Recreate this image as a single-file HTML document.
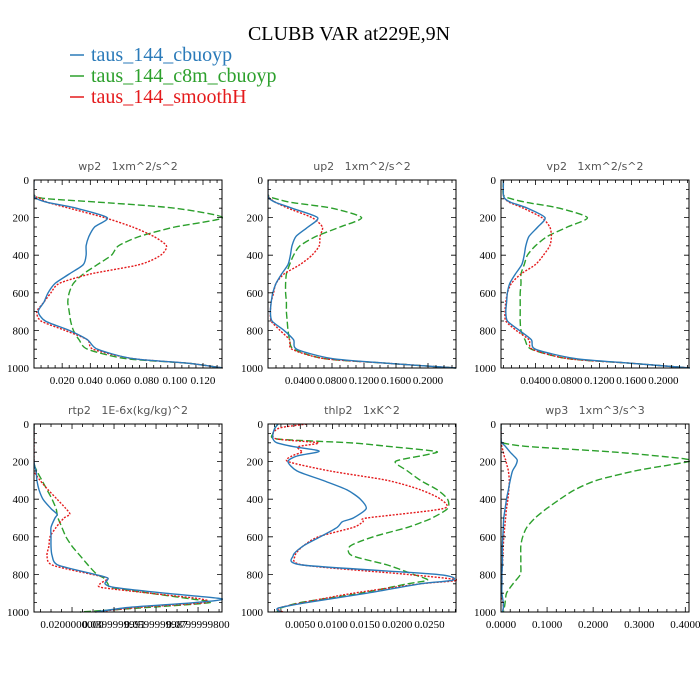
<!DOCTYPE html>
<html><head><meta charset="utf-8"><style>
body{margin:0;background:#fff;}
svg{display:block;}
text{white-space:pre;}
</style></head><body>
<svg id="chart" width="700" height="700" viewBox="0 0 700 700" xmlns="http://www.w3.org/2000/svg">
<rect width="700" height="700" fill="#fff"/>
<text x="349" y="40" text-anchor="middle" font-family="Liberation Serif, serif" font-size="20" fill="#000">CLUBB VAR at229E,9N</text>
<g>
<line x1="70" y1="55" x2="84" y2="55" stroke="#2a7ab9" stroke-width="1.5"/>
<text x="91" y="61" font-family="Liberation Serif, serif" font-size="20" fill="#2a7ab9">taus_144_cbuoyp</text>
<line x1="70" y1="76" x2="84" y2="76" stroke="#2ca02c" stroke-width="1.5"/>
<text x="91" y="82" font-family="Liberation Serif, serif" font-size="20" fill="#2ca02c">taus_144_c8m_cbuoyp</text>
<line x1="70" y1="97" x2="84" y2="97" stroke="#e41a1c" stroke-width="1.5"/>
<text x="91" y="103" font-family="Liberation Serif, serif" font-size="20" fill="#e41a1c">taus_144_smoothH</text>
</g>
</svg>
<script>
// ---- data ----
const lvA = [0,80,100,120,150,200,250,300,350,400,450,500,550,600,650,700,750,800,850,900,950,975,1000];
const wp2Blue  = [0,0,.002,.01,.03,.052,.043,.039,.037,.037,.035,.025,.015,.010,.007,.003,.008,.025,.038,.045,.07,.11,.134];
const wp2Green = [0,0,.01,.05,.10,.134,.10,.075,.06,.055,.045,.035,.028,.025,.024,.025,.026,.028,.032,.038,.065,.11,.134];
const wp2Red   = [0,0,.005,.01,.025,.05,.07,.085,.094,.09,.075,.04,.018,.012,.007,.002,.005,.022,.038,.042,.07,.11,.134];
const up2Blue  = [0,0,.002,.01,.03,.062,.05,.035,.03,.028,.025,.017,.01,.006,.004,.003,.005,.02,.032,.036,.08,.15,.235];
const up2Green = [0,0,.01,.03,.08,.117,.09,.06,.04,.032,.027,.023,.022,.022,.023,.023,.024,.025,.027,.032,.07,.15,.235];
const up2Red   = [0,0,.003,.01,.025,.055,.068,.065,.064,.055,.04,.02,.01,.007,.004,.003,.004,.015,.027,.03,.07,.15,.235];
const vp2Blue  = [0,0,.002,.01,.03,.052,.043,.032,.028,.026,.023,.015,.008,.005,.004,.003,.005,.02,.035,.04,.09,.16,.234];
const vp2Green = [0,0,.01,.03,.07,.105,.08,.055,.04,.03,.026,.022,.022,.021,.021,.021,.021,.022,.027,.035,.08,.16,.234];
const vp2Red   = [0,0,.002,.008,.025,.048,.058,.06,.058,.05,.04,.022,.01,.005,.003,.002,.003,.016,.032,.036,.08,.16,.234];
const lvR = [0,200,250,300,350,400,450,480,500,550,600,650,700,750,800,820,850,870,900,930,950,975,1000];
const rtp2Blue  = [.0019,.0019,.0029,.0033,.0043,.0062,.0100,.0129,.0119,.0100,.0100,.0100,.0105,.0133,.0310,.0371,.0357,.0405,.0643,.0914,.0786,.0476,.0310];
const rtp2Green = [.0019,.0019,.0033,.0057,.0081,.0105,.0124,.0129,.0133,.0152,.0171,.0200,.0238,.0276,.0319,.0352,.0371,.0390,.0571,.0762,.0857,.0571,.0238];
const rtp2Red   = [.0019,.0019,.0019,.0048,.0086,.0129,.0171,.0190,.0162,.0124,.0095,.0090,.0081,.0105,.0295,.0371,.0333,.0343,.0571,.0810,.0833,.0524,.0310];
const lvT = [0,20,50,80,100,120,140,150,170,200,250,300,350,400,450,500,520,550,600,650,700,750,800,830,850,900,950,980,1000];
const thlp2Blue  = [.00155,.0011,.00078,.00078,.0014,.0039,.0076,.0076,.0045,.0031,.0045,.0085,.0122,.0143,.0152,.0132,.0115,.0107,.0081,.0054,.0039,.0053,.0262,.0287,.0236,.0153,.0060,.00155,.0019];
const thlp2Green = [.00155,.0011,.00078,.0014,.0127,.0189,.0247,.0262,.0236,.0197,.0216,.0236,.0262,.0278,.0278,.0254,.0240,.0216,.0163,.0127,.0130,.0185,.0225,.0247,.0216,.0143,.0050,.0019,.0014];
const thlp2Red   = [.0060,.0019,.00078,.0014,.0078,.0047,.0050,.0053,.0037,.0031,.0096,.0185,.0236,.0267,.0271,.0153,.0147,.0132,.0078,.0054,.0042,.0054,.0216,.0293,.0236,.0132,.0054,.00155,.0023];
const lvW = [0,80,100,120,150,180,190,200,220,250,300,350,400,450,500,550,600,650,700,750,800,850,900,950,980,1000];
const wp3Green = [0,0,.003,.06,.25,.38,.408,.408,.36,.29,.207,.16,.128,.099,.074,.056,.047,.043,.043,.043,.042,.026,.012,.009,.007,.005];
const wp3Blue  = [0,0,.002,.01,.02,.032,.035,.035,.032,.025,.02,.016,.012,.009,.006,.005,.004,.003,.003,.003,.002,.002,.002,.005,.005,.003];
const wp3Red   = [0,0,0,.002,.005,.008,.01,.011,.013,.016,.018,.017,.015,.012,.01,.008,.006,.005,.004,.003,.002,.002,.001,.004,.005,.003];
const yTicks = [0,200,400,600,800,1000];
const wp2Ticks = [0.02,0.04,0.06,0.08,0.10,0.12];
const wp2Labels = ["0.020","0.040","0.060","0.080","0.100","0.120"];
const uvTicks = [0.04,0.08,0.12,0.16,0.20];
const uvLabels = ["0.0400","0.0800","0.1200","0.1600","0.2000"];
const rtTicks = [0.02,0.04,0.06,0.08];
const rtLabels = ["0.0200000000","0.0399999991","0.0599999987","0.0799999800"];
const thTicks = [0.005,0.010,0.015,0.020,0.025];
const thLabels = ["0.0050","0.0100","0.0150","0.0200","0.0250"];
const w3Ticks = [0,0.1,0.2,0.3,0.4];
const w3Labels = ["0.0000","0.1000","0.2000","0.3000","0.4000"];

const NS = "http://www.w3.org/2000/svg";
const svg = document.getElementById('chart');
function mk(tag, attrs, parent){const e=document.createElementNS(NS,tag);for(const k in attrs)e.setAttribute(k,attrs[k]);(parent||svg).appendChild(e);return e;}
const colors = {blue:"#2a7ab9", green:"#2ca02c", red:"#e41a1c"};
const dashes = {blue:"", green:"7,3", red:"2,1.5"};

function smoothPath(pts){
  let d = 'M'+pts[0][0].toFixed(1)+','+pts[0][1].toFixed(1);
  for(let i=0;i<pts.length-1;i++){
    const p0=pts[Math.max(0,i-1)], p1=pts[i], p2=pts[i+1], p3=pts[Math.min(pts.length-1,i+2)];
    const k=1/8;
    const c1=[p1[0]+(p2[0]-p0[0])*k, p1[1]+(p2[1]-p0[1])*k];
    const c2=[p2[0]-(p3[0]-p1[0])*k, p2[1]-(p3[1]-p1[1])*k];
    d+=` C${c1[0].toFixed(1)},${c1[1].toFixed(1)} ${c2[0].toFixed(1)},${c2[1].toFixed(1)} ${p2[0].toFixed(1)},${p2[1].toFixed(1)}`;
  }
  return d;
}

function panel(name, title, x0, y0, xmin, xmax, minorStep, ticks, labels, levels, series){
  const W=188, H=188;
  const g = mk('g',{});
  
  
  const sx = v => x0 + (v - xmin) / (xmax - xmin) * W;
  const sy = p => y0 + p / 1000 * H;
  const t = mk('text',{x:x0+W/2,y:y0-10,'text-anchor':'middle','font-family':'DejaVu Sans, sans-serif','font-size':'11',fill:'#555'},g);
  t.textContent = title;
  
  
  const clipId = name+'-clip';
  const cp = mk('clipPath',{id:clipId},g);
  mk('rect',{x:x0,y:y0,width:W+1,height:H+1},cp);
  ['green','red','blue'].forEach(c=>{
    const vals = series[c];
    const pts = vals.map((v,i)=>[sx(v), sy(levels[i])]);
    const p = mk('path',{d:smoothPath(pts),fill:'none',stroke:colors[c],'stroke-width':'1.4','stroke-dasharray':dashes[c],'clip-path':`url(#${clipId})`},g);
    
    
  });
  const fr = mk('rect',{x:x0,y:y0,width:W,height:H,fill:'none',stroke:'#000','stroke-width':'1'},g);
  
  
  let d='';
  for(let p=0;p<=1000;p+=50){const y=sy(p);const L=(p%200===0)?5:3;d+=`M${x0},${y}h${L}M${x0+W},${y}h${-L}`;}
  const nMin = Math.round((xmax-xmin)/minorStep);
  for(let i=0;i<=nMin+1;i++){const v=Math.ceil(xmin/minorStep)*minorStep+i*minorStep;if(v>xmax+1e-9)break;const x=sx(v);const major=ticks.some(tk=>Math.abs(tk-v)<minorStep/10);const L=major?5:3;d+=`M${x},${y0+H}v${-L}M${x},${y0}v${L}`;}
  mk('path',{d:d,stroke:'#000','stroke-width':'0.8',fill:'none'},g);
  yTicks.forEach(p=>{const tx=mk('text',{x:x0-5,y:sy(p)+4,'text-anchor':'end','font-family':'Liberation Serif, serif','font-size':'11',fill:'#000'},g);tx.textContent=p;
    
    });
  ticks.forEach((v,i)=>{const tx=mk('text',{x:sx(v),y:y0+H+16,'text-anchor':'middle','font-family':'Liberation Serif, serif','font-size':'11',fill:'#000'},g);tx.textContent=labels[i];
    
    });
}
panel('wp2','wp2   1xm^2/s^2',34,180,0,0.1335,0.005,wp2Ticks,wp2Labels,lvA,{blue:wp2Blue,green:wp2Green,red:wp2Red});
panel('up2','up2   1xm^2/s^2',268,180,0,0.235,0.01,uvTicks,uvLabels,lvA,{blue:up2Blue,green:up2Green,red:up2Red});
panel('vp2','vp2   1xm^2/s^2',501,180,-0.003,0.232,0.01,uvTicks,uvLabels,lvA,{blue:vp2Blue,green:vp2Green,red:vp2Red});
panel('rtp2','rtp2   1E-6x(kg/kg)^2',34,424,0.0019,0.0914,0.005,rtTicks,rtLabels,lvR,{blue:rtp2Blue,green:rtp2Green,red:rtp2Red});
panel('thlp2','thlp2   1xK^2',268,424,0,0.0291,0.001,thTicks,thLabels,lvT,{blue:thlp2Blue,green:thlp2Green,red:thlp2Red});
panel('wp3','wp3   1xm^3/s^3',501,424,0,0.408,0.02,w3Ticks,w3Labels,lvW,{blue:wp3Blue,green:wp3Green,red:wp3Red});
</script>
</body></html>
